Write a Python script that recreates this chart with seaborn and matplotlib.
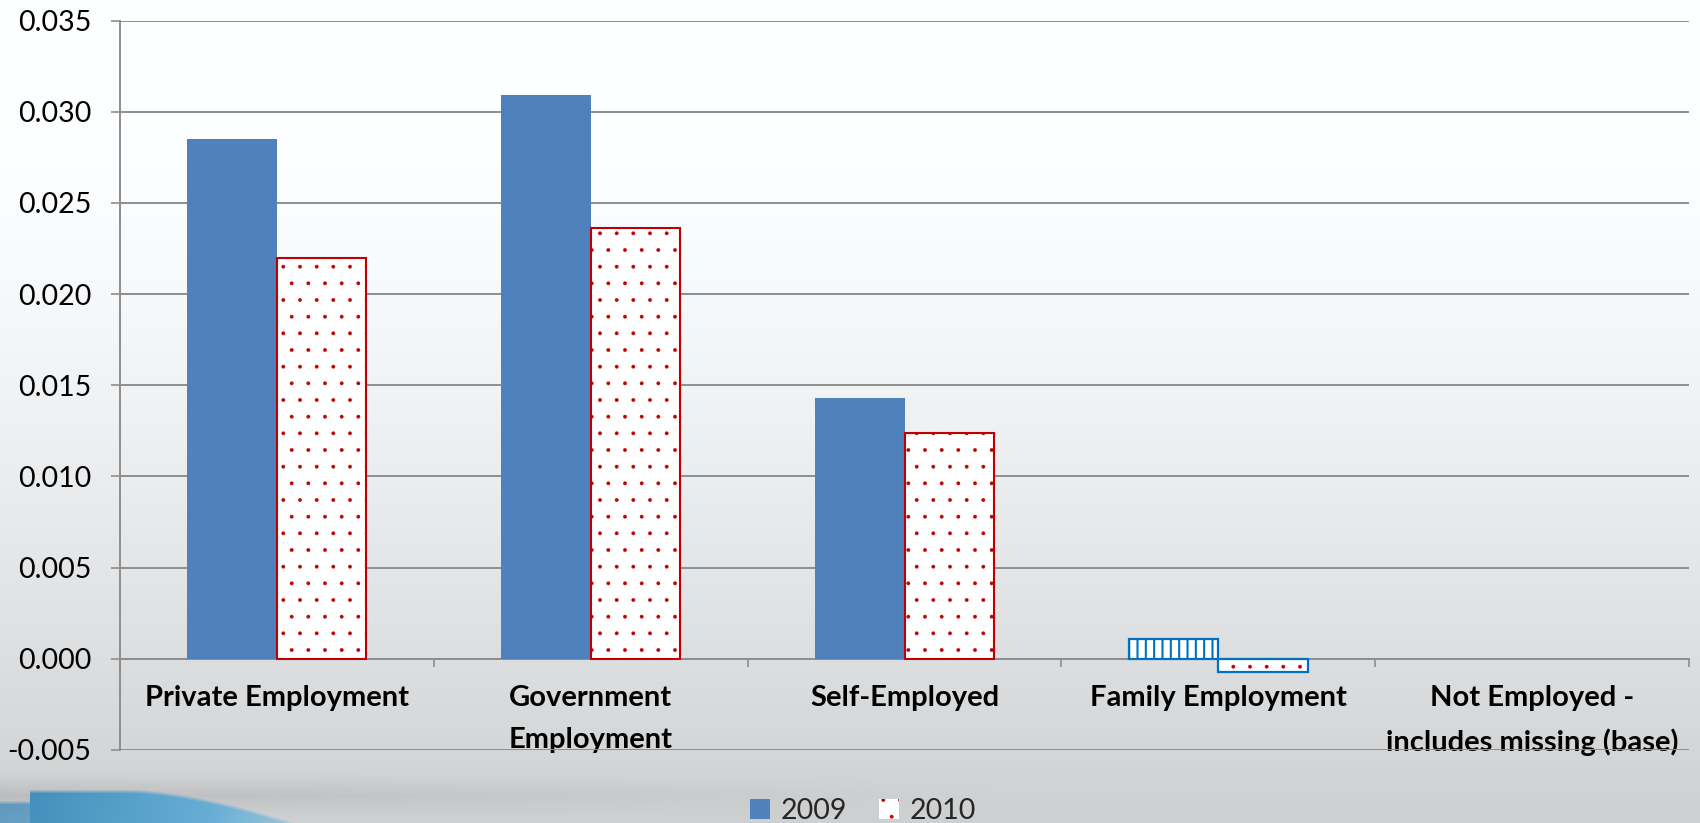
import numpy as np
import pandas as pd
import seaborn as sns
import matplotlib.pyplot as plt
from matplotlib.patches import Patch, Rectangle
from matplotlib.ticker import FuncFormatter

# ---- data -------------------------------------------------------------
categories = [
    "Private Employment",
    "Government\nEmployment",
    "Self-Employed",
    "Family Employment",
    "Not Employed -\nincludes missing (base)",
]
years = ["2009", "2010"]
values_2009 = [0.0285, 0.0309, 0.0143, 0.0011, 0.0]
values_2010 = [0.0220, 0.0236, 0.0124, -0.0007, 0.0]
y_ticks = [-0.005, 0.000, 0.005, 0.010, 0.015, 0.020, 0.025, 0.030, 0.035]

df = pd.DataFrame({
    "category": categories * 2,
    "year": [years[0]] * len(categories) + [years[1]] * len(categories),
    "value": values_2009 + values_2010,
})

# ---- style ------------------------------------------------------------
sns.set_theme(style="white")
plt.rcParams["font.family"] = ["Lato", "DejaVu Sans"]
plt.rcParams["hatch.linewidth"] = 0.3

BLUE = "#4F81BD"
RED = "#C00000"
OUTLINE_BLUE = "#0070C0"
GRID = "#8e8e8e"

W, H = 1700, 823
fig = plt.figure(figsize=(W / 100, H / 100), dpi=100)

# slide-style background: white fading to light grey, blue swoosh bottom-left
yy, xx = np.mgrid[0:H, 0:W].astype(float)
t = np.clip((yy - 120) / (H - 120), 0, 1)
grey = 255 - 48 * t ** 1.4
img = np.stack([grey - 1, grey, grey + 2], axis=-1) / 255.0
img = np.clip(img, 0, 1)
# soft darker band just above the swoosh
band = np.clip(1 - np.abs(yy - 795) / 22, 0, 1) * np.clip(1 - xx / 1000, 0, 1)
img = img * (1 - 0.10 * band[..., None])
# blue swoosh
top_edge = 789 + 35 * np.clip((xx - 130) / 170, 0, None) ** 1.6
top_edge = np.where(xx < 30, 800, top_edge)
mask = (yy >= top_edge).astype(float)
fade = np.clip(1 - (xx - 210) / 100, 0, 1)
alpha = mask * (0.5 + 0.45 * fade) * np.clip((yy - top_edge) / 4, 0, 1)
alpha = np.where(xx < 30, alpha * 0.75, alpha)
blue_l = np.array([0.22, 0.53, 0.72])
blue_r = np.array([0.45, 0.74, 0.88])
mix = np.clip(xx / 300, 0, 1)[..., None]
swoosh = blue_l * (1 - mix) + blue_r * mix
img = img * (1 - alpha[..., None]) + swoosh * alpha[..., None]

bg = fig.add_axes([0, 0, 1, 1], zorder=-10)
bg.imshow(img, aspect="auto", interpolation="bilinear")
bg.axis("off")

# ---- chart ------------------------------------------------------------
left, right, top, bottom = 120, 1689, 20.6, 750
ax = fig.add_axes([left / W, 1 - bottom / H, (right - left) / W, (bottom - top) / H])
ax.set_facecolor("none")

sns.barplot(
    data=df, x="category", y="value", hue="year",
    palette={"2009": BLUE, "2010": "white"},
    width=0.57, gap=0, dodge=True, legend=False, ax=ax,
    errorbar=None, saturation=1,
)

family_idx = 3
for yi, container in enumerate(ax.containers):
    for ci, bar in enumerate(container):
        bar.set_zorder(3)
        if bar.get_height() == 0:
            bar.set_visible(False)
            continue
        if yi == 0:
            if ci == family_idx:
                bar.set_facecolor("white")
                bar.set_edgecolor(OUTLINE_BLUE)
                bar.set_linewidth(1.6)
                bar.set_hatch("||")
                if hasattr(bar, "set_hatch_linewidth"):
                    bar.set_hatch_linewidth(1.5)
            else:
                bar.set_facecolor(BLUE)
                bar.set_edgecolor("none")
                bar.set_linewidth(0)
        else:
            bar.set_facecolor("white")
            bar.set_edgecolor(RED)
            bar.set_hatch(".")
            if ci == family_idx:
                bar.set_linewidth(0)
                ax.add_patch(Rectangle(
                    (bar.get_x(), bar.get_y()), bar.get_width(), bar.get_height(),
                    fill=False, edgecolor=OUTLINE_BLUE, linewidth=1.6, zorder=4,
                ))
            else:
                bar.set_linewidth(1.5)

# y axis
ax.set_ylim(-0.005, 0.035)
ax.set_yticks(y_ticks)
ax.yaxis.set_major_formatter(FuncFormatter(lambda v, _: f"{v:.3f}"))
ax.yaxis.grid(True, color=GRID, linewidth=1.4, zorder=0)
ax.set_axisbelow(True)
ax.tick_params(axis="y", which="major", direction="out", length=6.5, width=1.2,
               color=GRID, labelsize=20.5, labelcolor="black", pad=14, left=True)

# x axis sits on zero; ticks at category boundaries, labels at centres
ax.spines["top"].set_visible(False)
ax.spines["right"].set_visible(False)
ax.spines["left"].set_color(GRID)
ax.spines["left"].set_linewidth(1.4)
ax.spines["bottom"].set_position(("data", 0))
ax.spines["bottom"].set_color(GRID)
ax.spines["bottom"].set_linewidth(1.4)
ax.set_xlim(-0.5, len(categories) - 0.5)
ax.set_xticks(np.arange(-0.5, len(categories)), labels=[""] * (len(categories) + 1))
ax.set_xticks(np.arange(len(categories)), labels=categories, minor=True)
ax.tick_params(axis="x", which="major", direction="out", length=6, width=1.2,
               color=GRID, bottom=True)
ax.tick_params(axis="x", which="minor", length=0, pad=19, labelsize=21,
               labelcolor="black", bottom=True)
for lbl in ax.get_xticklabels(minor=True):
    lbl.set_fontweight("bold")
    lbl.set_linespacing(1.75)
ax.set_xlabel("")
ax.set_ylabel("")

# legend at the bottom
handles = [
    Patch(facecolor=BLUE, edgecolor="none", label=years[0]),
    Patch(facecolor="white", edgecolor=RED, linewidth=0, hatch=".", label=years[1]),
]
fig.legend(handles=handles, loc="center", bbox_to_anchor=(863 / W, 1 - 811 / H),
           ncol=2, frameon=False, fontsize=20.5, handlelength=0.7,
           handleheight=0.7, handletextpad=0.4, columnspacing=1.1)

fig.savefig("out.png", dpi=100)
